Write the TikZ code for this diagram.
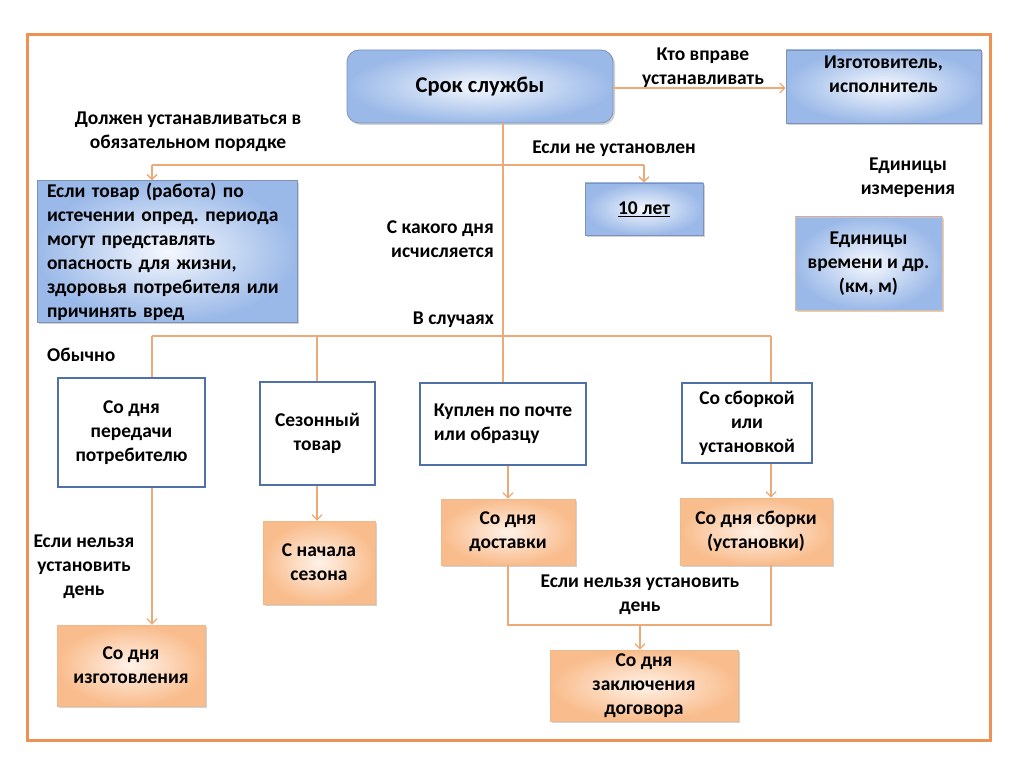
\documentclass[tikz,border=0pt]{standalone}
\usepackage{fontspec}
\setmainfont{Carlito}
\usetikzlibrary{arrows.meta,shadows}
\definecolor{frameor}{RGB}{237,145,85}
\definecolor{conn}{RGB}{235,170,120}
\definecolor{bluebd}{RGB}{79,113,167}
\definecolor{bluegbd}{RGB}{125,145,185}
\definecolor{blueout}{RGB}{155,185,232}
\definecolor{bluein}{RGB}{245,248,254}
\definecolor{orout}{RGB}{249,188,140}
\definecolor{orin}{RGB}{255,242,232}
\definecolor{orbd}{RGB}{240,185,140}
\tikzset{
  every node/.style={font=\fontsize{19.5}{24}\selectfont\bfseries, text=black},
  bluebox/.style={draw=bluegbd, line width=0.8pt, inner color=bluein, outer color=blueout,
    drop shadow={opacity=0.35, shadow xshift=2pt, shadow yshift=-2pt}, align=center},
  orbox/.style={draw=orbd, line width=0.8pt, inner color=orin, outer color=orout,
    drop shadow={opacity=0.35, shadow xshift=2pt, shadow yshift=-2pt}, align=center},
  whitebox/.style={draw=bluebd, line width=2.3pt, fill=white, align=center},
  lbl/.style={align=center, inner sep=0pt},
  cn/.style={draw=conn, line width=1.3pt},
  arr/.style={cn, -{Straight Barb[length=5pt,width=10pt]}},
}
\begin{document}
\frenchspacing
\begin{tikzpicture}[x=1pt,y=-1pt]
\useasboundingbox (0,0) rectangle (1024,767);
\fill[white] (0,0) rectangle (1024,767);
\draw[frameor, line width=3pt] (27,35) rectangle (990,740);

% boxes
\node[bluebox, rounded corners=12pt, minimum width=266pt, minimum height=73pt,
      font=\fontsize{22.5}{24}\selectfont\bfseries] (main) at (480,86.5) {Срок службы};
\node[bluebox, minimum width=195pt, minimum height=73pt] (izg) at (883.5,86.5) {};
\node[lbl] (izgt) at (883.5,74) {Изготовитель,\\исполнитель};
\node[bluebox, minimum width=118pt, minimum height=52pt] (tenlet) at (644,209) {\underline{10 лет}};
\node[bluebox, minimum width=260pt, minimum height=137pt, align=left, text width=240pt, inner xsep=10pt, inner ysep=2pt] (danger) at (167,251.5)
  {Если товар (работа) по\\истечении опред. периода\\могут представлять\\опасность для жизни,\\здоровья потребителя или\\причинять вред};
\node[bluebox, draw=orbd, minimum width=147pt, minimum height=93pt] (units) at (868.5,263.5) {Единицы\\времени и др.\\(км, м)};

\node[whitebox, minimum width=147pt, minimum height=109pt] (peredachi) at (131.5,432.5) {Со дня\\передачи\\потребителю};
\node[whitebox, minimum width=115pt, minimum height=103pt] (sezon) at (317.5,433.5) {Сезонный\\товар};
\node[whitebox, minimum width=166pt, minimum height=82pt, align=left] (kuplen) at (503,424) {Куплен по почте\\или образцу};
\node[whitebox, minimum width=130pt, minimum height=80pt] (sborka) at (747,423) {Со сборкой\\или\\установкой};

\node[orbox, minimum width=112pt, minimum height=83pt] (nachala) at (319,562.5) {С начала\\сезона};
\node[orbox, minimum width=134pt, minimum height=66pt] (dostavki) at (508,532) {Со дня\\доставки};
\node[orbox, minimum width=152pt, minimum height=67pt] (sborki) at (756,531.5) {Со дня сборки\\(установки)};
\node[orbox, minimum width=148pt, minimum height=81pt] (izgotovl) at (131,665.5) {Со дня\\изготовления};
\node[orbox, minimum width=188pt, minimum height=71pt] (zakl) at (644,685.5) {Со дня\\заключения\\договора};

% labels
\node[lbl] (l1) at (703,67.5) {Кто вправе\\устанавливать};
\node[lbl] (l2) at (188,131.5) {Должен устанавливаться в\\обязательном порядке};
\node[lbl] (l3) at (614,149) {Если не установлен};
\node[lbl] (l4) at (908,178) {Единицы\\измерения};
\node[lbl, anchor=east, align=right] (l5) at (494,239) {С какого дня\\исчисляется};
\node[lbl, anchor=east] (l6) at (494,320) {В случаях};
\node[lbl, anchor=west] (l7) at (47,355) {Обычно};
\node[lbl] (l8) at (84,567) {Если нельзя\\установить\\день};
\node[lbl] (l9) at (640,595) {Если нельзя установить\\день};

% coordinates
\coordinate (hl) at (152,165);
\coordinate (hm) at (503,165);
\coordinate (hr) at (644,165);
\coordinate (bl) at (152,336);
\coordinate (bs) at (317,336);
\coordinate (bm) at (503,336);
\coordinate (br) at (771,336);
\coordinate (dl) at (508,625);
\coordinate (dm) at (640,625);
\coordinate (dr) at (771,625);

% connectors
\draw[arr] (main.east |- 0,88) -- (izg.west |- 0,88);
\draw[cn] (main.south -| hm) -- (bm);
\draw[cn] (hl) -- (hr);
\draw[arr] (hl) -- (hl |- danger.north);
\draw[arr] (hr) -- (hr |- tenlet.north);
\draw[cn] (bl) -- (br);
\draw[cn] (bl) -- (bl |- peredachi.north);
\draw[cn] (bs) -- (bs |- sezon.north);
\draw[cn] (bm) -- (bm |- kuplen.north);
\draw[cn] (br) -- (br |- sborka.north);
\draw[arr] (peredachi.south -| bl) -- (izgotovl.north -| bl);
\draw[arr] (sezon.south -| bs) -- (nachala.north -| bs);
\draw[arr] (kuplen.south -| dl) -- (dostavki.north -| dl);
\draw[arr] (sborka.south -| dr) -- (sborki.north -| dr);
\draw[cn] (dostavki.south -| dl) -- (dl) -- (dr) -- (sborki.south -| dr);
\draw[arr] (dm) -- (zakl.north -| dm);
\end{tikzpicture}
\end{document}
